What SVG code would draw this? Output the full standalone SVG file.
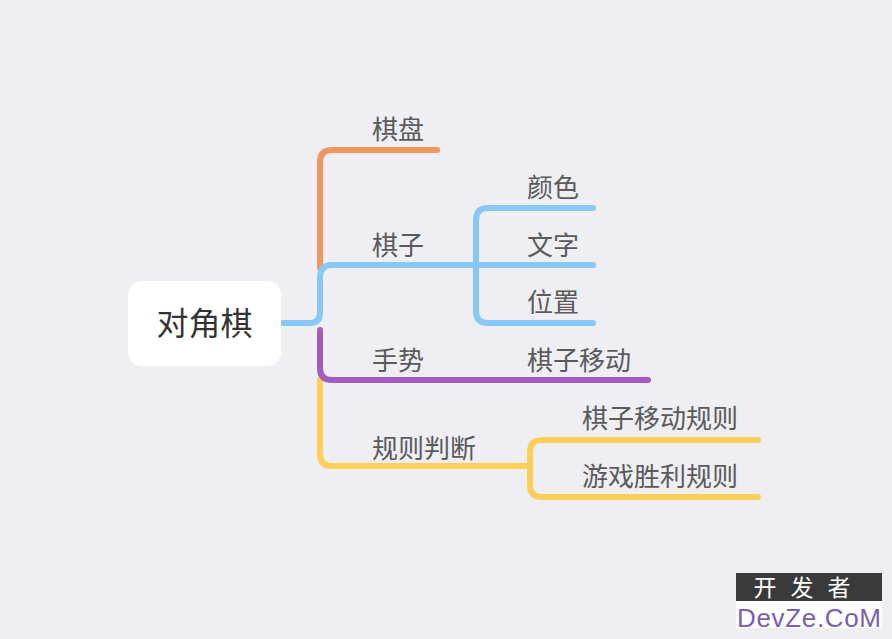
<svg xmlns="http://www.w3.org/2000/svg" width="892" height="639" viewBox="0 0 892 639">
<style>
.l{fill:none;stroke-width:6;stroke-linecap:round;stroke-linejoin:round}
.t{font-family:"Noto Sans CJK SC","Noto Sans",sans-serif;font-size:26px;fill:#5a5a5a}
</style>
<rect width="892" height="639" fill="#eeeef3"/>
<g id="connectors">
<path class="l" stroke="#f0965f" d="M320,268 V162 Q320,150 332,150 H437"/>
<path class="l" stroke="#fccf5a" d="M320,380 V454 Q320,466 332,466 H530"/>
<path class="l" stroke="#fccf5a" d="M758,440 H542 Q530,440 530,452 V485 Q530,497 542,497 H758"/>
<path class="l" stroke="#a35bbf" d="M320,330 V368 Q320,380 332,380 H648"/>
<path class="l" stroke="#88c8f8" d="M282,323 H310 Q320,323 320,313 V277 Q320,265 332,265 H593"/>
<path class="l" stroke="#88c8f8" d="M593,208 H488 Q476,208 476,220 V311 Q476,323 488,323 H593"/>
</g>
<g id="root"><rect x="128" y="281" width="153" height="85" rx="14" fill="#fff"/>
<text x="204.5" y="335" text-anchor="middle" font-family="Noto Sans CJK SC,sans-serif" font-size="32" fill="#333">对角棋</text></g>
<g id="n1"><text class="t" x="372" y="139">棋盘</text></g>
<g id="n2"><text class="t" x="372" y="255">棋子</text></g>
<g id="n3"><text class="t" x="372" y="370">手势</text></g>
<g id="n4"><text class="t" x="372" y="458">规则判断</text></g>
<g id="n5"><text class="t" x="527" y="197">颜色</text></g>
<g id="n6"><text class="t" x="527" y="255">文字</text></g>
<g id="n7"><text class="t" x="527" y="312">位置</text></g>
<g id="n8"><text class="t" x="527" y="370">棋子移动</text></g>
<g id="n9"><text class="t" x="582" y="428">棋子移动规则</text></g>
<g id="n10"><text class="t" x="582" y="486">游戏胜利规则</text></g>
<g id="wm">
<rect x="736" y="573" width="146" height="55" fill="#fff"/>
<rect x="736" y="573" width="146" height="28" fill="#3a3a3a"/>
<text x="809" y="596" text-anchor="middle" font-family="Noto Sans CJK SC,sans-serif" font-size="23" fill="#fff" letter-spacing="14">开发者</text>
<text x="809" y="627" text-anchor="middle" font-family="Liberation Sans,sans-serif" font-size="26" fill="#7a60b0" textLength="144">DevZe.CoM</text>
</g>
</svg>
